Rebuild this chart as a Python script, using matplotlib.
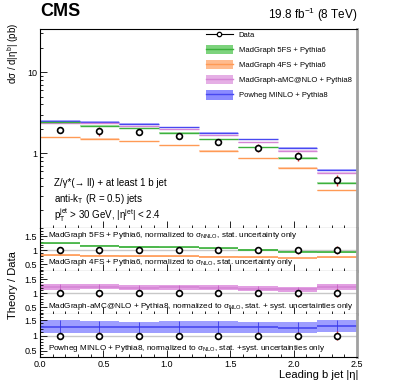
import numpy as np
import matplotlib
matplotlib.use('Agg')
import matplotlib.pyplot as plt
from matplotlib.patches import Patch
from matplotlib.lines import Line2D
from matplotlib.ticker import MultipleLocator, FixedLocator, NullFormatter, LogLocator, FuncFormatter

plt.rcParams['font.family'] = ['Liberation Sans', 'DejaVu Sans']
plt.rcParams['mathtext.fontset'] = 'custom'
plt.rcParams['mathtext.rm'] = 'Liberation Sans'
plt.rcParams['mathtext.it'] = 'Liberation Sans:italic'
plt.rcParams['mathtext.bf'] = 'Liberation Sans:bold'

# ---------------- data ----------------
bin_edges = [0, 0.3125, 0.625, 0.9375, 1.25, 1.5625, 1.875, 2.1875, 2.5]
data = [1.93, 1.88, 1.81, 1.63, 1.39, 1.17, 0.93, 0.47]
data_err_rel = [0.08, 0.12, 0.08, 0.06, 0.09, 0.11, 0.13, 0.15]
mg5fs = [2.40, 2.18, 2.02, 1.79, 1.48, 1.18, 0.88, 0.436]
mg4fs = [1.57, 1.51, 1.41, 1.26, 1.07, 0.87, 0.667, 0.348]
amcnlo = [2.37, 2.33, 2.16, 1.97, 1.66, 1.36, 1.07, 0.57]
powheg = [2.49, 2.42, 2.29, 2.08, 1.78, 1.48, 1.17, 0.62]
# ratio-band half widths
mg5fs_unc = [0.02, 0.02, 0.02, 0.02, 0.02, 0.02, 0.02, 0.02]
mg4fs_unc = [0.01, 0.01, 0.01, 0.01, 0.01, 0.01, 0.01, 0.01]
amcnlo_unc = [0.10, 0.10, 0.09, 0.09, 0.09, 0.09, 0.09, 0.11]
powheg_unc = [0.20, 0.20, 0.19, 0.19, 0.19, 0.19, 0.19, 0.20]

legend_labels = ['Data', 'MadGraph 5FS + Pythia6', 'MadGraph 4FS + Pythia6',
                 'MadGraph-aMC@NLO + Pythia8', 'Powheg MINLO + Pythia8']

edges = np.array(bin_edges)
lo, hi = edges[:-1], edges[1:]
centers = 0.5 * (lo + hi)
data = np.array(data)
derr = np.array(data_err_rel)

cols = {
    'g': ('#3cb03c', '#6fcf6f'),
    'o': ('#ff9a55', '#ffb482'),
    'p': ('#d585d5', '#e3a6e3'),
    'b': ('#4848f0', '#7f7fff'),
}

W, H = 399, 383
fig = plt.figure(figsize=(W / 100, H / 100), dpi=100)

def ax_at(top, bot):
    return fig.add_axes([40 / W, 1 - bot / H, 317 / W, (bot - top) / H])

ax = ax_at(29, 228)
r1 = ax_at(228, 271)
r2 = ax_at(271, 314)
r3 = ax_at(314, 357)

fs_tick = 6.5

def style(a):
    a.set_xlim(0, 2.5)
    a.tick_params(which='both', direction='in', top=False, right=False,
                  labelsize=fs_tick, width=0.6, pad=2)
    a.tick_params(which='major', length=5)
    a.tick_params(which='minor', length=2.5)
    a.xaxis.set_major_locator(MultipleLocator(0.5))
    a.xaxis.set_minor_locator(MultipleLocator(0.1))
    for s in ['left', 'bottom', 'top']:
        a.spines[s].set_linewidth(0.8)
    a.spines['top'].set_visible(False)
    a.spines['right'].set_color('#a0a0a0')
    a.spines['right'].set_linewidth(2.0)

for a in (ax, r1, r2, r3):
    style(a)
ax.spines['top'].set_visible(True)

# ---------------- main panel ----------------
ax.set_yscale('log')
ax.set_ylim(0.12, 34)
ax.yaxis.set_major_locator(FixedLocator([1, 10]))
ax.yaxis.set_major_formatter(FuncFormatter(lambda v, p: '%g' % v))
ax.yaxis.set_minor_locator(LogLocator(base=10, subs=np.arange(2, 10)))
ax.yaxis.set_minor_formatter(NullFormatter())
ax.tick_params(labelbottom=False)

def draw_theory(a, vals, key, rel, lw=1.0, alpha=0.55):
    lc, fc = cols[key]
    vals = np.array(vals)
    for i in range(len(vals)):
        a.fill_between([lo[i], hi[i]], vals[i] * (1 - rel), vals[i] * (1 + rel),
                       color=fc, alpha=alpha, lw=0)
    a.hlines(vals, lo, hi, color=lc, lw=lw)

draw_theory(ax, powheg, 'b', 0.02)
draw_theory(ax, amcnlo, 'p', 0.018)
draw_theory(ax, mg5fs, 'g', 0.012)
draw_theory(ax, mg4fs, 'o', 0.012)

def draw_data(a, y, yerr):
    a.errorbar(centers, y, yerr=yerr, fmt='none', ecolor='#e03030', elinewidth=1.0, zorder=5)
    a.plot(centers, y, 'o', ms=4.2, mfc='white', mec='black', mew=1.2, zorder=6, ls='none')

draw_data(ax, data, data * derr)

# legend
handles = [Line2D([], [], color='black', lw=0.8, marker='o', ms=3.2, mfc='white', mec='black', mew=0.9)]
for key in ['g', 'o', 'p', 'b']:
    lc, fc = cols[key]
    handles.append((Patch(facecolor=fc, edgecolor='none', alpha=0.9),
                    Line2D([], [], color=lc, lw=1.0)))
ax.legend(handles, legend_labels, loc='upper left', bbox_to_anchor=(0.523, 0.995),
          frameon=False, fontsize=5.5, handlelength=3.5, handleheight=1.5,
          labelspacing=0.75, handletextpad=0.8, borderpad=0, borderaxespad=0)

fig.text(40 / W, 1 - 12 / H, 'CMS', fontsize=13, fontweight='bold', va='center', ha='left')
fig.text(358 / W, 1 - 15 / H, '19.8 fb$^{-1}$ (8 TeV)', fontsize=8.5, va='center', ha='right')
fig.text(13 / W, 1 - 23 / H, 'dσ / d|η$^{\\rm b}$| (pb)', rotation=90, fontsize=7, va='top', ha='center')

txt_x = (54 - 40) / 317
for ypix, s in [(183, 'Z/γ*(→ ll) + at least 1 b jet'),
                (199, 'anti-k$_{\\rm T}$ (R = 0.5) jets'),
                (215, 'p$_{\\rm T}^{\\rm jet}$ > 30 GeV, |η$^{\\rm jet}$| < 2.4')]:
    ax.text(txt_x, 1 - (ypix - 29) / 199, s, fontsize=7, transform=ax.transAxes,
            va='center', ha='left')

# ---------------- ratio panels ----------------
def ratio_style(a, ylim):
    a.set_ylim(*ylim)
    a.yaxis.set_major_locator(FixedLocator([0.5, 1, 1.5]))
    a.yaxis.set_major_formatter(FuncFormatter(lambda v, p: '%g' % v))
    a.yaxis.set_minor_locator(MultipleLocator(0.1))
    a.axhline(1, color='#c8c8c8', lw=1.0, zorder=0)

ratio_style(r1, (0.25, 1.8))
ratio_style(r2, (0.25, 1.8))
ratio_style(r3, (0.3, 1.7))
r1.tick_params(labelbottom=False)
r2.tick_params(labelbottom=False)

def draw_ratio(a, vals, unc, key, falpha, fcol=None):
    lc, fc = cols[key]
    if fcol is not None:
        fc = fcol
    rat = np.array(vals) / data
    unc = np.array(unc)
    for i in range(len(rat)):
        a.fill_between([lo[i], hi[i]], rat[i] - unc[i], rat[i] + unc[i],
                       color=fc, alpha=falpha, lw=0)
    a.hlines(rat, lo, hi, color=lc, lw=1.2)
    return rat

rg = draw_ratio(r1, mg5fs, mg5fs_unc, 'g', 0.6)
ro = draw_ratio(r1, mg4fs, mg4fs_unc, 'o', 0.6)
rp = draw_ratio(r2, amcnlo, amcnlo_unc, 'p', 0.6, '#cf5fcf')
r2.vlines(centers, rp - np.array(amcnlo_unc), rp + np.array(amcnlo_unc), color='#c660c6', lw=0.6)
rb = draw_ratio(r3, powheg, powheg_unc, 'b', 0.6, '#5d5dff')
r3.vlines(centers, rb - np.array(powheg_unc), rb + np.array(powheg_unc), color='#3a3ae8', lw=0.6)

ones = np.ones_like(data)
for a in (r1, r2, r3):
    draw_data(a, ones, derr)

tfs = 5.9
tx = (48 - 40) / 317
r1.text(tx, 1.52, 'MadGraph 5FS + Pythia6, normalized to σ$_{\\rm NNLO}$, stat. uncertainty only',
        fontsize=tfs, va='center', ha='left', transform=r1.get_yaxis_transform())
r1.text(tx, 0.56, 'MadGraph 4FS + Pythia6, normalized to σ$_{\\rm NLO}$, stat. uncertainty only',
        fontsize=tfs, va='center', ha='left', transform=r1.get_yaxis_transform())
r2.text(tx, 0.52, 'MadGraph-aMC@NLO + Pythia8, normalized to σ$_{\\rm NLO}$, stat. + syst. uncertainties only',
        fontsize=tfs, va='center', ha='left', transform=r2.get_yaxis_transform())
r3.text(tx, 0.57, 'Powheg MINLO + Pythia8, normalized to σ$_{\\rm NLO}$, stat. +syst. uncertainties only',
        fontsize=tfs, va='center', ha='left', transform=r3.get_yaxis_transform())

fig.text(13 / W, 1 - 285 / H, 'Theory / Data', rotation=90, fontsize=8, va='center', ha='center')
fig.text(358 / W, 1 - 375 / H, 'Leading b jet |η|', fontsize=8, va='center', ha='right')

fig.savefig('out.png', dpi=100)
